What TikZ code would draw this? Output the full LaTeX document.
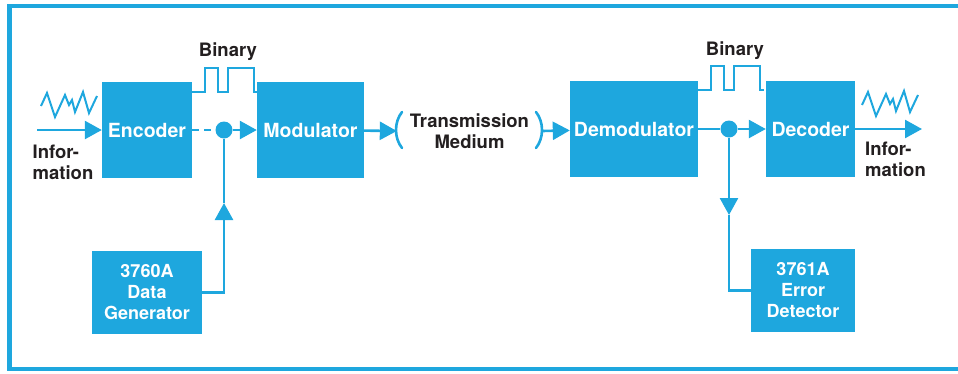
\documentclass[tikz,border=0pt]{standalone}
\usepackage{fontspec}
\setmainfont{TeX Gyre Heros}
\usetikzlibrary{arrows.meta,calc}
\definecolor{hpblue}{RGB}{30,167,222}
\definecolor{ink}{RGB}{35,31,32}
% one bit pattern above a link, and a bit of noise beside an input
\newcommand\bitwave[1]{\draw[wave] (#1) -- ++(13,0) -- ++(0,-24) -- ++(13,0) -- ++(0,24)
  -- ++(10,0) -- ++(0,-24) -- ++(26,0) -- ++(0,24) -- ++(4,0);}
\newcommand\noisewave[1]{\draw[wave] (#1) -- ++(6,-13) -- ++(8,24) -- ++(10,-22) -- ++(4,10)
  -- ++(3,-5) -- ++(3,12) -- ++(8,-20) -- ++(6,21) -- ++(8,-17);}
\begin{document}
\begin{tikzpicture}[x=1pt, y=-1pt, font=\fontsize{18.5}{21}\selectfont\bfseries]
        \tikzstyle{block} = [fill=hpblue, text=white, inner sep=0pt, align=center, minimum height=96pt,
                font=\fontsize{19.5}{21}\selectfont\bfseries]
        \tikzstyle{unit} = [block, minimum height=83pt, font=\fontsize{18}{21}\selectfont\bfseries]
        \tikzstyle{sig} = [draw=hpblue, line width=2.6pt, -{Triangle[length=17pt,width=18pt]}]
        \tikzstyle{plain} = [draw=hpblue, line width=2.6pt]
        \tikzstyle{wave} = [draw=hpblue, line width=2pt, line join=miter]
        \tikzstyle{tag} = [text=ink, inner sep=0pt, align=left]
        \tikzstyle{dot} = [circle, fill=hpblue, minimum size=17pt, inner sep=0pt]
        \useasboundingbox (0,0) rectangle (958,373);
        % frame, open at the right
        \draw[hpblue, line width=4.5pt] (960,6) -- (9.5,6) -- (9.5,369) -- (960,369);

        \node[block, minimum width=90pt] (enc) at (147,130) {Encoder};
        \node[block, minimum width=107pt] (mod) at (310.5,130) {Modulator};
        \node[block, minimum width=128pt] (demod) at (634,129) {Demodulator};
        \node[block, minimum width=89pt] (dec) at (810.5,129) {Decoder};
        \node[unit, minimum width=110pt] (gen) at (147,292.5) {3760A\\Data\\Generator};
        \node[unit, minimum width=104pt] (err) at (803,290.5) {3761A\\Error\\Detector};

        \node[dot] (d1) at (224,130) {};
        \node[dot] (d2) at (729,129) {};
        \node[text=ink, inner sep=0pt, align=center, minimum width=145pt] (tm) at (469.5,131) {Transmission\\Medium};

        \node[tag] (inlab) at (63,162) {Infor-\\mation};
        \node[tag] (outlab) at (895.5,159) {Infor-\\mation};
        \node[text=ink, inner sep=0pt] (bin1) at (228,52) {Binary};
        \node[text=ink, inner sep=0pt] (bin2) at (735,51) {Binary};

        \coordinate (in) at (37,130);
        \coordinate (out) at (922,129);
        \coordinate (gtip) at (224,203);
        \coordinate (etip) at (729,215);

        % brackets round the medium
        \draw[plain, line cap=round] (402,112) .. controls (394,122) and (394,138) .. (402,148);
        \draw[plain, line cap=round] (536,112) .. controls (544,122) and (544,138) .. (536,148);

        \path[sig] (in) -- (enc);
        \path[plain, dashed, dash pattern=on 7pt off 5pt] (enc) -- (d1);
        \path[sig] (d1) -- (mod);
        \path[sig] (mod) -- (tm.west);
        \path[sig] (tm.east) -- (demod);
        \path[plain] (demod) -- (d2);
        \path[sig] (d2) -- (dec);
        \path[sig] (dec) -- (out);
        \path[sig] (gen.east) -| (gtip);
        \path[plain] (gtip) -- (d1);
        \path[sig] (d2) -- (etip);
        \path[plain] (etip) |- (err.west);

        \bitwave{$(enc.north east)+(0,10)$}
        \bitwave{$(demod.north east)+(0,9)$}
        \noisewave{41,106}
        \noisewave{862,105}
\end{tikzpicture}
\end{document}
